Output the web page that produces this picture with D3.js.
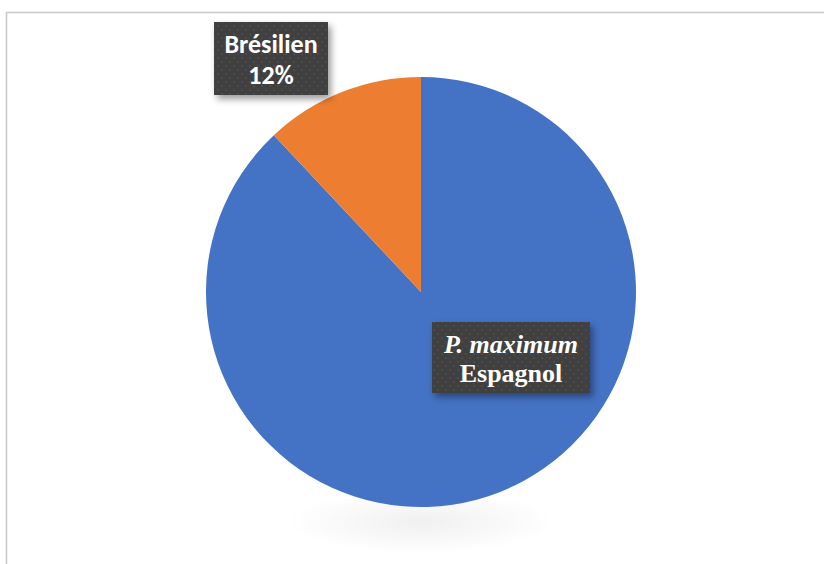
<!DOCTYPE html>
<html><head><meta charset="utf-8">
<script src="https://cdn.jsdelivr.net/npm/d3@7"></script>
<style>html,body{margin:0;padding:0;background:#fff;}svg{display:block;}</style>
</head><body>
<script>
const categories = ["Espagnol", "Brésilien"];
const values = [88, 12];
const colors = ["#4472C4", "#ED7D31"];

const W = 824, H = 564;
const svg = d3.select("body").append("svg").attr("width", W).attr("height", H);
const defs = svg.append("defs");

const pat = defs.append("pattern").attr("id", "dots").attr("patternUnits", "userSpaceOnUse")
  .attr("width", 8).attr("height", 8);
pat.append("rect").attr("width", 8).attr("height", 8).attr("fill", "#3f3f3f");
pat.append("circle").attr("cx", 2).attr("cy", 2).attr("r", 1.2).attr("fill", "#4b4b4b");
pat.append("circle").attr("cx", 6).attr("cy", 6).attr("r", 1.2).attr("fill", "#4b4b4b");

const sh = defs.append("filter").attr("id", "shadow").attr("x", "-20%").attr("y", "-20%").attr("width", "150%").attr("height", "160%");
sh.append("feDropShadow").attr("dx", 3).attr("dy", 4).attr("stdDeviation", 3.5).attr("flood-color", "#000").attr("flood-opacity", 0.4);

const rg = defs.append("radialGradient").attr("id", "pieShadow");
rg.append("stop").attr("offset", "0%").attr("stop-color", "#000").attr("stop-opacity", 0.06);
rg.append("stop").attr("offset", "100%").attr("stop-color", "#000").attr("stop-opacity", 0);

// frame
svg.append("rect").attr("x", 6.5).attr("y", 12.5).attr("width", W + 20).attr("height", H + 20)
  .attr("fill", "none").attr("stroke", "#c6c6c6").attr("stroke-width", 1.5);

const cx = 421, cy = 292, R = 215;

svg.append("ellipse").attr("cx", cx).attr("cy", cy + R + 15).attr("rx", 135).attr("ry", 32)
  .attr("fill", "url(#pieShadow)");

const pie = d3.pie().sort(null).value(d => d)(values);
const arc = d3.arc().innerRadius(0).outerRadius(R);
const g = svg.append("g").attr("transform", `translate(${cx},${cy})`);
g.selectAll("path").data(pie).join("path").attr("d", arc).attr("fill", (d, i) => colors[i]);

// labels
function label(x, y, w, h, lines) {
  const lg = svg.append("g");
  lg.append("rect").attr("x", x).attr("y", y).attr("width", w).attr("height", h)
    .attr("fill", "url(#dots)").attr("filter", "url(#shadow)");
  lines.forEach(l => {
    const t = lg.append("text").attr("x", x + w / 2).attr("y", l.y).attr("text-anchor", "middle")
      .attr("fill", "#fff").attr("font-weight", "bold").attr("font-size", l.size).attr("font-family", l.family);
    l.parts.forEach(p => t.append("tspan").attr("font-style", p.italic ? "italic" : "normal").text(p.t));
  });
}

const sans = "Carlito, Calibri, Lato, sans-serif";
const serif = "'Liberation Serif', 'Times New Roman', serif";
label(214, 22, 114, 73, [
  { y: 53, size: 26, family: sans, parts: [{ t: categories[1] }] },
  { y: 84, size: 26, family: sans, parts: [{ t: values[1] + "%" }] }
]);

label(432, 322, 158, 71, [
  { y: 353, size: 26, family: serif, parts: [{ t: "P. maximum", italic: true }] },
  { y: 382, size: 26, family: serif, parts: [{ t: categories[0] }] }
]);
</script>
</body></html>
